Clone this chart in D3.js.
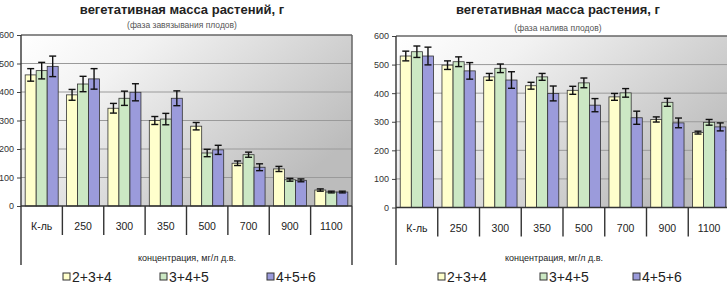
<!DOCTYPE html>
<html>
<head>
<meta charset="utf-8">
<script src="https://cdn.jsdelivr.net/npm/d3@7"></script>
<style>
  body { margin: 0; background: #fff; }
  svg { display: block; font-family: "Liberation Sans", Arial, sans-serif; }
</style>
</head>
<body>
<script>
// categories and series
const categories = ["К-ль", "250", "300", "350", "500", "700", "900", "1100"];
const series = ["2+3+4", "3+4+5", "4+5+6"];
const colors = ["#ffffcc", "#cce8c4", "#9b9bdb"];
const yTicks = [0, 100, 200, 300, 400, 500, 600];

// left chart: фаза завязывания плодов
const leftMean234 = [460, 390, 343, 300, 280, 150, 130, 56];
const leftMean345 = [475, 428, 378, 305, 186, 180, 92, 49];
const leftMean456 = [490, 446, 399, 378, 197, 136, 90, 49];
const leftErr234 = [22, 19, 17, 14, 13, 8, 9, 4];
const leftErr345 = [29, 27, 25, 20, 13, 9, 5, 3];
const leftErr456 = [36, 36, 30, 26, 16, 12, 5, 3];

// right chart: фаза налива плодов
const rightMean234 = [530, 498, 457, 426, 410, 387, 308, 262];
const rightMean345 = [545, 510, 487, 457, 436, 401, 368, 298];
const rightMean456 = [530, 478, 446, 399, 358, 314, 296, 282];
const rightErr234 = [17, 15, 12, 12, 14, 12, 9, 5];
const rightErr345 = [20, 17, 15, 12, 17, 15, 14, 10];
const rightErr456 = [31, 29, 29, 26, 23, 23, 17, 14];

const svg = d3.select("body").append("svg")
  .attr("width", 727)
  .attr("height", 284);

//gradient for plot background
const grad = svg.append("defs").append("linearGradient")
  .attr("id", "bg")
  .attr("x1", 0).attr("y1", 0).attr("x2", 1).attr("y2", 0.6);
grad.append("stop").attr("offset", "0").attr("stop-color", "#ffffff");
grad.append("stop").attr("offset", "0.3").attr("stop-color", "#f2f2f2");
grad.append("stop").attr("offset", "1").attr("stop-color", "#bcbcbc");

function drawChart(cfg) {
  const x0 = d3.scaleBand().domain(categories).range([cfg.left, cfg.right]).padding(0);
  const x1 = d3.scaleBand().domain(series).range([0, x0.bandwidth()])
    .paddingInner(0).paddingOuter(0.38);
  const y = d3.scaleLinear().domain([0, 600]).range([cfg.zero, cfg.top]);

  const g = svg.append("g");

  // plot background
  g.append("rect")
    .attr("x", cfg.left).attr("y", cfg.top)
    .attr("width", cfg.right - cfg.left).attr("height", cfg.zero - cfg.top)
    .attr("fill", "url(#bg)");

  // gridlines
  g.selectAll(".grid").data(yTicks.slice(1)).enter().append("line")
    .attr("x1", cfg.left).attr("x2", cfg.right)
    .attr("y1", d => y(d)).attr("y2", d => y(d))
    .attr("stroke", d => d === 600 ? "#666" : "#9a9a9a")
    .attr("stroke-width", d => d === 600 ? 1.5 : 1);

  // right border of plot
  g.append("line")
    .attr("x1", cfg.right).attr("x2", cfg.right)
    .attr("y1", cfg.top).attr("y2", cfg.zero)
    .attr("stroke", "#666").attr("stroke-width", 1.5);

  // bars
  const rows = [];
  categories.forEach((c, i) => {
    series.forEach((s, j) => {
      rows.push({cat: c, ser: s, j: j, v: cfg.means[j][i], e: cfg.errs[j][i]});
    });
  });

  g.selectAll(".bar").data(rows).enter().append("rect")
    .attr("x", d => x0(d.cat) + x1(d.ser))
    .attr("y", d => y(d.v))
    .attr("width", x1.bandwidth())
    .attr("height", d => cfg.zero - y(d.v))
    .attr("fill", d => colors[d.j])
    .attr("stroke", "#333")
    .attr("stroke-width", 0.8);

  // error bars
  const eb = g.selectAll(".err").data(rows).enter().append("g")
    .attr("transform", d => `translate(${x0(d.cat) + x1(d.ser) + x1.bandwidth() / 2},0)`);
  eb.append("line")
    .attr("y1", d => y(d.v - d.e)).attr("y2", d => y(d.v + d.e))
    .attr("stroke", "#111").attr("stroke-width", 1.4);
  eb.append("line")
    .attr("x1", -3.5).attr("x2", 3.5)
    .attr("y1", d => y(d.v + d.e)).attr("y2", d => y(d.v + d.e))
    .attr("stroke", "#111").attr("stroke-width", 1.4);
  eb.append("line")
    .attr("x1", -3.5).attr("x2", 3.5)
    .attr("y1", d => y(d.v - d.e)).attr("y2", d => y(d.v - d.e))
    .attr("stroke", "#111").attr("stroke-width", 1.4);

  // y axis
  const yAxis = d3.axisLeft(y).tickValues(yTicks).tickSize(4).tickPadding(3);
  const ya = g.append("g")
    .attr("transform", `translate(${cfg.left},0)`)
    .call(yAxis);
  ya.select(".domain").remove();
  ya.selectAll(".tick line").attr("stroke", "#444");
  ya.selectAll(".tick text").attr("font-size", 9).attr("fill", "#333")
    .attr("font-family", "'Liberation Sans', Arial, sans-serif");

  // left axis line down to the second-level separator
  g.append("line")
    .attr("x1", cfg.left).attr("x2", cfg.left)
    .attr("y1", cfg.top).attr("y2", 265)
    .attr("stroke", "#333").attr("stroke-width", 1.4);
  g.append("line")
    .attr("x1", cfg.right).attr("x2", cfg.right)
    .attr("y1", cfg.zero).attr("y2", 265)
    .attr("stroke", "#333").attr("stroke-width", 1.4);

  // x axis line
  g.append("line")
    .attr("x1", cfg.left).attr("x2", cfg.right)
    .attr("y1", cfg.zero).attr("y2", cfg.zero)
    .attr("stroke", "#333").attr("stroke-width", 1.4);

  // category separators
  g.selectAll(".sep").data(categories.slice(1)).enter().append("line")
    .attr("x1", d => x0(d)).attr("x2", d => x0(d))
    .attr("y1", cfg.zero).attr("y2", cfg.zero + 29)
    .attr("stroke", "#333").attr("stroke-width", 1.4);

  // category labels
  g.selectAll(".cat").data(categories).enter().append("text")
    .attr("x", d => x0(d) + x0.bandwidth() / 2)
    .attr("y", cfg.zero + 24)
    .attr("text-anchor", "middle")
    .attr("font-size", 10.5)
    .attr("fill", "#222")
    .text(d => d);

  // axis title
  g.append("text")
    .attr("x", cfg.axisTitleX).attr("y", 261)
    .attr("text-anchor", "middle")
    .attr("font-size", 9)
    .attr("fill", "#222")
    .text("концентрация, мг/л д.в.");

  // titles
  g.append("text")
    .attr("x", cfg.titleX).attr("y", 14)
    .attr("text-anchor", "middle")
    .attr("font-size", 13)
    .attr("font-weight", "bold")
    .attr("fill", "#222")
    .text(cfg.title);
  g.append("text")
    .attr("x", cfg.titleX).attr("y", cfg.subY)
    .attr("text-anchor", "middle")
    .attr("font-size", 8.5)
    .attr("fill", "#555")
    .text(cfg.subtitle);

  // legend
  const lg = g.selectAll(".leg").data(series).enter().append("g")
    .attr("transform", (d, i) => `translate(${cfg.legendX[i]},0)`);
  lg.append("rect")
    .attr("x", 0).attr("y", 273)
    .attr("width", 7).attr("height", 7)
    .attr("fill", (d, i) => colors[i])
    .attr("stroke", "#333").attr("stroke-width", 1);
  lg.append("text")
    .attr("x", 9).attr("y", 282)
    .attr("font-size", 14)
    .attr("fill", "#222")
    .text(d => d);
}

drawChart({
  left: 21, right: 352, top: 35, zero: 206,
  means: [leftMean234, leftMean345, leftMean456],
  errs: [leftErr234, leftErr345, leftErr456],
  title: "вегетативная масса растений, г",
  subtitle: "(фаза завязывания плодов)",
  titleX: 182, subY: 28, axisTitleX: 187,
  legendX: [63, 160, 267]
});

drawChart({
  left: 396, right: 730, top: 36, zero: 207.5,
  means: [rightMean234, rightMean345, rightMean456],
  errs: [rightErr234, rightErr345, rightErr456],
  title: "вегетативная масса растения, г",
  subtitle: "(фаза налива плодов)",
  titleX: 558, subY: 31, axisTitleX: 554,
  legendX: [438, 540, 633]
});
</script>
</body>
</html>
